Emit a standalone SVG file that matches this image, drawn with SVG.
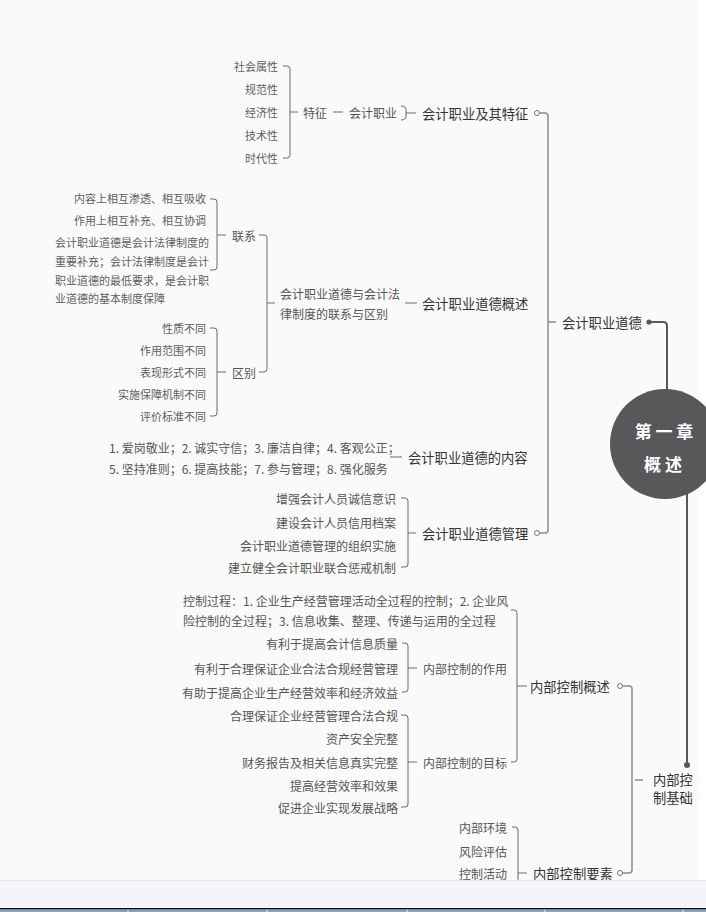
<svg xmlns="http://www.w3.org/2000/svg" width="706" height="912" viewBox="0 0 706 912">
<style>
text{font-family:"Noto Sans CJK SC","Noto Sans",sans-serif;dominant-baseline:central}
.t1{font-size:13.3px;fill:#333}
.t3{font-size:12px;fill:#555}
.t4{font-size:11px;fill:#5e5e5e}
.e{text-anchor:end}
.br{fill:none;stroke:#6a6a6a;stroke-width:1}
.lv{fill:none;stroke:#8c8c8c;stroke-width:1.5}
.dk{fill:none;stroke:#58585a;stroke-width:2}
.oc{fill:#fafafa;stroke:#777;stroke-width:1}
.ctr{font-size:17px;font-weight:bold;fill:#fff;text-anchor:middle}
</style>
<rect x="0" y="0" width="706" height="912" fill="#fafafa"/>
<rect x="699" y="0" width="7" height="880" fill="#ffffff"/>

<g id="connectors">
  <path class="dk" d="M649,322 H663 Q667,322 667,326 V392"/>
  <path class="dk" d="M687,492 V765"/>
  <circle cx="649" cy="322" r="2.6" fill="#58585a"/>
  <circle cx="687" cy="765" r="3" fill="#58585a"/>
  <path class="lv" d="M539.5,113 H545 Q548,113 548,116 V530 Q548,533 545,533 H539.5"/>
  <path class="lv" d="M548,322 H556"/>
  <circle class="oc" cx="537" cy="113" r="2.5"/>
  <circle class="oc" cx="537" cy="533" r="2.5"/>
  <path class="br" d="M401,106 Q406,106 406,110 V116 Q406,120 401,120 M406,113 H416"/>
  <path class="br" d="M333,112 H343"/>
  <path class="br" d="M283,66 H287 Q290,66 290,69 V155 Q290,158 287,158 H283 M290,112 H298"/>
  <path class="br" d="M405,303 H417"/>
  <path class="br" d="M259,235 H264 Q267,235 267,238 V369 Q267,372 264,372 H259 M267,303 H275"/>
  <path class="br" d="M210,199 H214 Q217,199 217,202 V267 Q217,270 214,270 H210 M217,235 H226"/>
  <path class="br" d="M210,328 H214 Q217,328 217,331 V413 Q217,416 214,416 H210 M217,372 H226"/>
  <path class="br" d="M390,457 H402"/>
  <path class="br" d="M401,498 H405 Q408,498 408,501 V564 Q408,567 405,567 H401 M408,533 H416"/>
  <path class="lv" d="M622.5,686 H629 Q632,686 632,689 V870 Q632,873 629,873 H622.5"/>
  <path class="lv" d="M635,780 H643"/>
  <circle class="oc" cx="620" cy="686" r="2.5"/>
  <circle class="oc" cx="620" cy="873" r="2.5"/>
  <path class="br" d="M511,610 H514 Q517,610 517,613 V759 Q517,762 514,762 H511 M517,686 H527"/>
  <path class="br" d="M402,643 H405 Q408,643 408,646 V689 Q408,692 405,692 H402 M408,668 H417"/>
  <path class="br" d="M401,715 H405 Q408,715 408,718 V804 Q408,807 405,807 H401 M408,762 H417"/>
  <path class="br" d="M512,827 H515 Q518,827 518,830 V920 M518,873 H527"/>
</g>

<g id="center">
  <circle cx="665" cy="444" r="55" fill="#58585a"/>
  <text class="ctr" x="664" y="430">第 一 章</text>
  <text class="ctr" x="663" y="463">概 述</text>
</g>

<g id="n-kjzydd"><text class="t1" x="562" y="322">会计职业道德</text></g>
<g id="n-kjzyjqtz"><text class="t1" x="422" y="113">会计职业及其特征</text></g>
<g id="n-kjzy"><text class="t3" x="349" y="112">会计职业</text></g>
<g id="n-tz"><text class="t3" x="303" y="112">特征</text></g>
<g id="n-tz-items">
  <text class="t4 e" x="278" y="66">社会属性</text>
  <text class="t4 e" x="278" y="89">规范性</text>
  <text class="t4 e" x="278" y="112">经济性</text>
  <text class="t4 e" x="278" y="135">技术性</text>
  <text class="t4 e" x="278" y="158">时代性</text>
</g>

<g id="n-gs"><text class="t1" x="422" y="303">会计职业道德概述</text></g>
<g id="n-lxyqb">
  <text class="t3" x="280" y="293">会计职业道德与会计法</text>
  <text class="t3" x="280" y="313">律制度的联系与区别</text>
</g>
<g id="n-lx"><text class="t3" x="232" y="235">联系</text></g>
<g id="n-lx-items">
  <text class="t4 e" x="206" y="198">内容上相互渗透、相互吸收</text>
  <text class="t4 e" x="206" y="220">作用上相互补充、相互协调</text>
  <text class="t4" x="55" y="242">会计职业道德是会计法律制度的</text>
  <text class="t4" x="55" y="261">重要补充；会计法律制度是会计</text>
  <text class="t4" x="55" y="280">职业道德的最低要求，是会计职</text>
  <text class="t4" x="55" y="298">业道德的基本制度保障</text>
</g>
<g id="n-qb"><text class="t3" x="232" y="372">区别</text></g>
<g id="n-qb-items">
  <text class="t4 e" x="206" y="328">性质不同</text>
  <text class="t4 e" x="206" y="350">作用范围不同</text>
  <text class="t4 e" x="206" y="372">表现形式不同</text>
  <text class="t4 e" x="206" y="394">实施保障机制不同</text>
  <text class="t4 e" x="206" y="416">评价标准不同</text>
</g>

<g id="n-nr"><text class="t1" x="408" y="457">会计职业道德的内容</text></g>
<g id="n-nr-items">
  <text class="t3" x="109" y="447">1. 爱岗敬业；2. 诚实守信；3. 廉洁自律；4. 客观公正；</text>
  <text class="t3" x="109" y="468">5. 坚持准则；6. 提高技能；7. 参与管理；8. 强化服务</text>
</g>

<g id="n-gl"><text class="t1" x="422" y="533">会计职业道德管理</text></g>
<g id="n-gl-items">
  <text class="t3 e" x="396" y="498">增强会计人员诚信意识</text>
  <text class="t3 e" x="396" y="522">建设会计人员信用档案</text>
  <text class="t3 e" x="396" y="545">会计职业道德管理的组织实施</text>
  <text class="t3 e" x="396" y="567">建立健全会计职业联合惩戒机制</text>
</g>

<g id="n-nbkzjc">
  <text class="t1" x="653" y="779">内部控</text>
  <text class="t1" x="653" y="797.5">制基础</text>
</g>
<g id="n-nbkzgs"><text class="t1" x="530" y="686">内部控制概述</text></g>
<g id="n-kzgc">
  <text class="t3" x="183" y="600">控制过程：1. 企业生产经营管理活动全过程的控制；2. 企业风</text>
  <text class="t3" x="183" y="620">险控制的全过程；3. 信息收集、整理、传递与运用的全过程</text>
</g>
<g id="n-zy"><text class="t3" x="423" y="668">内部控制的作用</text></g>
<g id="n-zy-items">
  <text class="t3 e" x="398" y="643">有利于提高会计信息质量</text>
  <text class="t3 e" x="398" y="668">有利于合理保证企业合法合规经营管理</text>
  <text class="t3 e" x="398" y="692">有助于提高企业生产经营效率和经济效益</text>
</g>
<g id="n-mb"><text class="t3" x="423" y="762">内部控制的目标</text></g>
<g id="n-mb-items">
  <text class="t3 e" x="398" y="715">合理保证企业经营管理合法合规</text>
  <text class="t3 e" x="398" y="738">资产安全完整</text>
  <text class="t3 e" x="398" y="762">财务报告及相关信息真实完整</text>
  <text class="t3 e" x="398" y="785">提高经营效率和效果</text>
  <text class="t3 e" x="398" y="807">促进企业实现发展战略</text>
</g>
<g id="n-ys"><text class="t1" x="533" y="873">内部控制要素</text></g>
<g id="n-ys-items">
  <text class="t3 e" x="507" y="827">内部环境</text>
  <text class="t3 e" x="507" y="851">风险评估</text>
  <text class="t3 e" x="507" y="873">控制活动</text>
</g>

<g id="bottom-bar">
  <rect x="0" y="880" width="706" height="32" fill="#f4f5f8"/>
  <line x1="0" y1="880.5" x2="706" y2="880.5" stroke="#e2e3e8" stroke-width="1"/>
  <rect x="0" y="908" width="706" height="1.6" fill="#111"/>
  <rect x="0" y="909.6" width="706" height="2.4" fill="#86a1ba"/>
  <g fill="#e8eef3">
    <rect x="127.5" y="909.6" width="1" height="2.4"/>
    <rect x="266.5" y="909.6" width="1" height="2.4"/>
    <rect x="406.5" y="909.6" width="1" height="2.4"/>
    <rect x="544.5" y="909.6" width="1" height="2.4"/>
    <rect x="682.5" y="909.6" width="1" height="2.4"/>
  </g>
</g>
</svg>
